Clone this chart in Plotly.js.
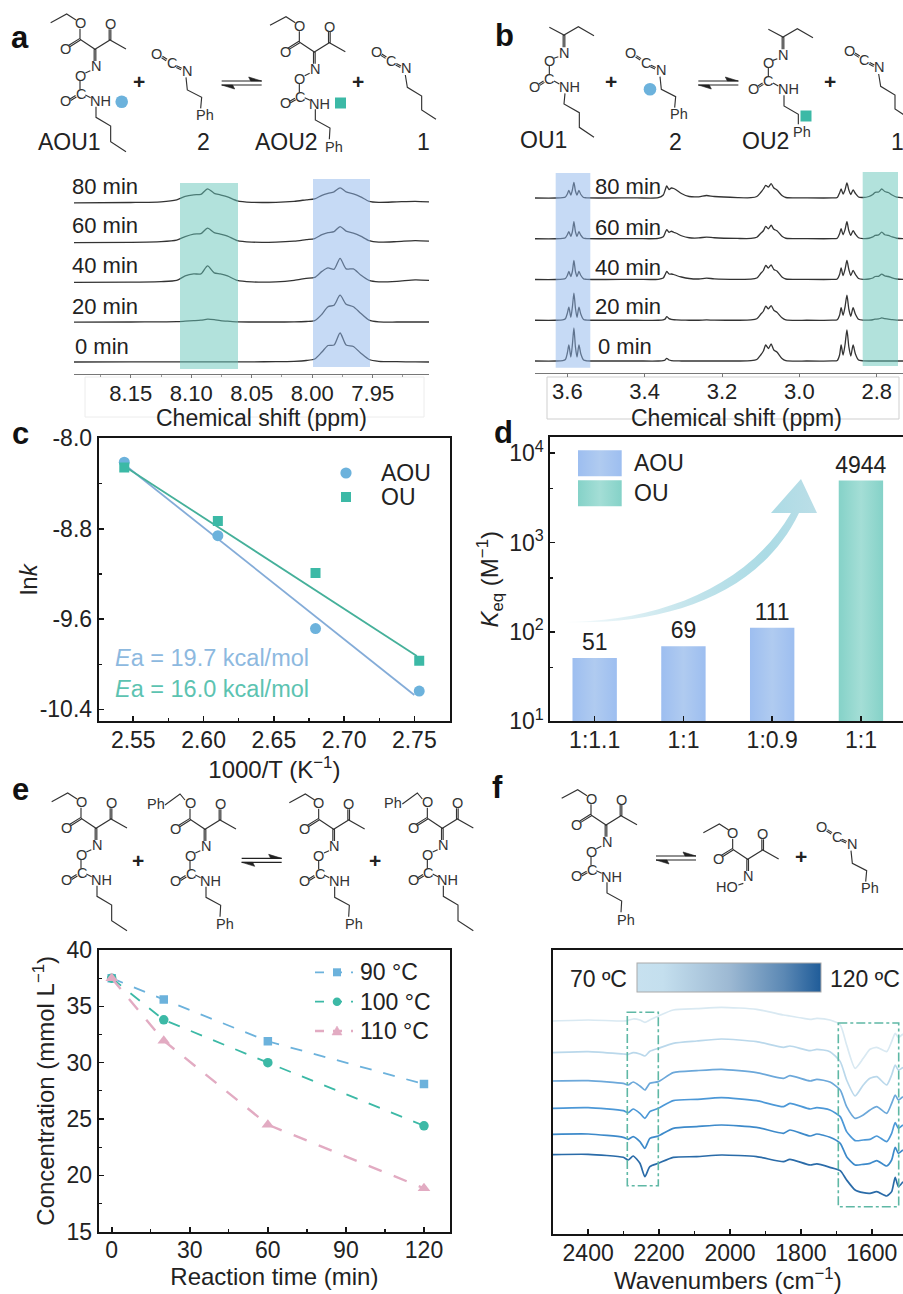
<!DOCTYPE html>
<html>
<head>
<meta charset="utf-8">
<script src="https://cdn.plot.ly/plotly-3.0.1.min.js"></script>
<style>html,body{margin:0;padding:0;background:#fff}#gd{width:903px;height:1294px}</style>
</head>
<body>
<div id="gd"></div>
<script>
// ---------- DATA ----------
const timeLabels = ["0 min","20 min","40 min","60 min","80 min"];

const ppmA = [8.197,8.15,8.125,8.112,8.105,8.098,8.092,8.0865,8.081,8.076,8.07,8.062,8.05,8.03,8.015,8.005,7.998,7.992,7.987,7.982,7.977,7.972,7.966,7.96,7.953,7.945,7.93,7.915,7.9035];
const specA0  = [0,.1,.1,.1,.1,.1,.1,.1,.1,.1,.1,.1,.2,.3,.7,1.5,3,10,16.5,17,29,17,15.5,9,2.5,.7,.3,.1,0];
const specA20 = [0,.2,.3,.5,1,1.5,2,3,2.5,1.5,1,.3,.2,.2,.3,.7,1.5,8,15.5,17,27,18,15.5,9,2,.3,.2,.2,.2];
const specA40 = [0,.3,.8,2,6.5,8.5,8.5,16.5,9.5,8.5,6.5,2,.5,.5,2,4,5,11,14.5,13,24,13.5,13.5,7.5,2,.5,1,2.5,2];
const specA60 = [0,.3,1,2.5,6,8.5,9,14.5,10,8.5,6.5,2,.5,.5,1.5,3,4,8,10,11,16,11.5,9.5,6.5,2,.5,1,2,1.5];
const specA80 = [0,.3,1,3,6.5,8,8.5,14,9.5,8,6,2,.5,.5,1.5,3,4,7.5,9.5,11,15,11,9,6,1.5,.5,1,1.5,1];

const ppmB = [3.684,3.63,3.612,3.605,3.6,3.596,3.591,3.587,3.583,3.579,3.575,3.57,3.565,3.558,3.55,3.5,3.42,3.365,3.352,3.347,3.343,3.337,3.331,3.325,3.318,3.305,3.285,3.26,3.24,3.22,3.16,3.125,3.11,3.1,3.093,3.087,3.08,3.073,3.066,3.058,3.045,3.035,2.98,2.915,2.902,2.896,2.892,2.887,2.882,2.877,2.872,2.867,2.861,2.855,2.847,2.835,2.82,2.81,2.804,2.795,2.787,2.779,2.77,2.76,2.748,2.732];
const specB0  = [0,0,.3,1.5,8,16,4,16,33,14,4,16,7,1,.2,0,0,0,.3,1,2.7,1,.4,.2,.1,0,0,0,0,0,0,.3,1.5,6,10,16,12.5,17,11,9,2.5,.4,0,.1,.5,6,16,6,16,31,14,5,16,7,1,.2,0,0,0,0,0,0,0,0,0,0];
const specB20 = [0,0,.3,1.5,7,13,3,13,27,12,3,13,6,.8,.2,0,0,0,.4,1.2,3.7,1.6,.8,.5,.3,.1,0,0,.3,.1,0,.3,1.5,6,9,14,11.5,14.7,10,8,2.5,.4,0,.1,.5,5,12.5,5,13,25,11,4,12.5,6,1,.1,.2,.5,1.1,1.3,2.3,1.6,1.2,.6,.2,.1];
const specB40 = [0,0,.3,1,4,8,3,8,19,8,3,8,4,.6,.2,0,.1,.2,1.5,5,8,5.5,5.5,5,4,2.5,1,.5,1.3,.7,.2,.3,1.5,6,9,14,11.5,14.5,10,8.5,2.5,.5,.1,.1,.5,5,11.5,4,10,19,10,4,9,5,1,.2,.5,1.5,3,3.2,5.3,3.6,3,1.6,.5,.1];
const specB60 = [0,0,.3,1,4,7,2.5,7,17,7,2.5,7,3.5,.5,.2,0,.1,.3,2,6,9,6.5,7.5,6.5,5.5,3,1,.8,1.7,1,.3,.3,1.5,5.5,8,12.3,10,13.5,9.5,8,2.5,.5,.1,.1,.5,5,10,4,9,17,8,3.5,8,4.5,1,.2,.5,1.8,3.3,3.8,6.7,4,3.3,1.8,.5,.1];
const specB80 = [0,0,.3,1,4,7.5,3,8,15.7,7,3,7.5,3.5,.5,.2,0,.1,.3,3,8,12,8.5,10,9.5,8,4.5,1.5,1.2,2.5,1.5,.4,.3,1.5,5.5,9,12.7,11,14.3,10,8,2.5,.5,.1,.1,.5,5,9,4,8,15,8,3.5,8,4.5,1,.5,1.5,3.5,5.7,6,9,6.5,5.5,3,.8,.2];

const invT = [2.5436,2.6102,2.6797,2.7535];
const lnkAOU = [-8.211,-8.862,-9.684,-10.238];
const lnkOU  = [-8.258,-8.732,-9.192,-9.970];
const fitX_AOU = [2.5436,2.75];
const fitY_AOU = [-8.231,-10.273];
const fitX_OU  = [2.5436,2.7518];
const fitY_OU  = [-8.246,-9.928];

const keqRatioAOU = ["1:1.1","1:1","1:0.9"];
const keqAOU = [51,69,111];
const keqRatioOU = ["1:1"];
const keqOU = [4944];

const timeMin = [0,20,60,120];
const conc90  = [37.5,35.6,31.9,28.1];
const conc100 = [37.5,33.8,30.0,24.4];
const conc110 = [37.5,31.95,24.5,18.85];

const wavenumber = [2500,2400,2301,2287,2273,2254,2240,2226,2202,2160,2094,2024,1925,1849,1831,1774,1755,1718,1689,1671,1647,1624,1605,1586,1558,1544,1534,1525,1512];
const ir70  = [640,643,640,642,646,643,636,643,655,673,677,681,675,658,655,645,648,643,628,568,498,528,555,561,548,578,603,591,601];
const ir80  = [545,548,541,540,545,541,535,549,558,573,580,586,578,561,565,551,555,548,518,463,415,448,468,473,448,478,508,493,501];
const ir90  = [460,461,453,448,457,445,433,453,458,485,491,495,485,468,476,460,465,457,433,383,348,358,373,383,363,393,418,403,413];
const ir100 = [378,380,371,365,376,363,348,368,378,401,405,410,401,383,393,376,380,373,353,308,281,283,285,295,278,303,335,318,328];
const ir110 = [300,301,291,285,293,278,258,288,295,318,323,328,321,303,313,295,301,291,273,233,208,210,213,221,205,223,261,243,253];
const ir120 = [239,240,231,223,235,213,173,203,213,231,233,238,233,218,225,208,211,201,191,163,133,125,123,128,115,128,171,143,158];
const irTemps = [70,80,90,100,110,120];

const ticksA = [8.15,8.10,8.05,8.00,7.95];
const ticksB = [3.6,3.4,3.2,3.0,2.8];
const ticksCx = [2.55,2.60,2.65,2.70,2.75];
const ticksCy = [-8.0,-8.8,-9.6,-10.4];
const ticksCyText = ["-8.0","-8.8","-9.6","-10.4"];
const ticksDy = [10,100,1000,10000];
const ticksDyText = ["10<sup>1</sup>","10<sup>2</sup>","10<sup>3</sup>","10<sup>4</sup>"];
const ticksE = [0,30,60,90,120];
const ticksEy = [15,20,25,30,35,40];
const ticksF = [2400,2200,2000,1800,1600];

// ---------- STYLE & HELPERS ----------
const W=903,H=1294,FONT='"Liberation Sans", Arial, sans-serif',INK='#222';
const cBlue='#6CB2DC',cTeal='#3CB9A6',cPink='#E2ABC2',cLineA='#84ACD8',cLineO='#45B09A';
const SWB='rgb(1,2,3)',SWG='rgb(4,5,6)',SWA='rgb(7,8,9)';
const dx=(l,r)=>[l/W,r/W], dy=(t,b)=>[1-b/H,1-t/H];
const fx=x=>x/W, fy=y=>1-y/H;
const annotations=[], shapes=[];
function T(text,x,y,size,o){annotations.push(Object.assign({text,x:fx(x),y:fy(y),xref:'paper',yref:'paper',showarrow:false,xanchor:'left',yanchor:'middle',borderpad:0,font:{family:FONT,size,color:INK}},o||{}));}
function pathShape(pts,o){
  const d=pts.map(l=>'M'+l.map(p=>fx(p[0]).toFixed(5)+','+fy(p[1]).toFixed(5)).join('L')).join(' ');
  shapes.push(Object.assign({type:'path',path:d,xref:'paper',yref:'paper',line:{color:'#333',width:1.15}},o||{}));
}
function rect(x0,y0,x1,y1,o){shapes.push(Object.assign({type:'rect',xref:'paper',yref:'paper',x0:fx(x0),x1:fx(x1),y0:fy(y0),y1:fy(y1),line:{width:0}},o||{}));}
function dot(x,y,r,col){shapes.push({type:'circle',xref:'paper',yref:'paper',x0:fx(x-r),x1:fx(x+r),y0:fy(y+r),y1:fy(y-r),fillcolor:col,line:{width:0}});}

function dbl(a,b,g){g=g||5;const vx=b[0]-a[0],vy=b[1]-a[1],L=Math.hypot(vx,vy),nx=-vy/L*g/2,ny=vx/L*g/2;
  return [[[a[0]+nx,a[1]+ny],[b[0]+nx,b[1]+ny]],[[a[0]-nx,a[1]-ny],[b[0]-nx,b[1]-ny]]];}
const ketoBonds=[[[152,68],[200,42],[228,60]],[[240,86],[240,118]],[[240,118],[285,148],[330,120],[378,147]],...dbl([240,118],[208,138]),...dbl([330,120],[330,88]),...dbl([285,148],[285,183])];
const ketoLabels=[['O',240,70],['O',197,147],['O',330,72],['N',287,198]];
const carbBonds=[[[271,212],[256,219]],[[240,243],[240,268]],[[256,285],[272,293]],...dbl([228,289],[211,299])];
const carbLabels=[['O',240,228],['C',243,282],['O',197,302],['NH',301,303]];
const butyl=[[[288,320],[288,352],[332,378],[332,425],[378,455]]];
const phenethyl=[[[288,320],[288,352],[332,376],[330,410]]];
const phLabel=[['Ph',345,432]];
const ouBonds=[[[178,82],[222,105],[265,80],[312,107]],...dbl([222,105],[222,142]),[[205,170],[192,175]],[[178,198],[178,222]],[[192,243],[208,252]],...dbl([162,245],[148,254])];
const ouLabels=[['N',222,160],['O',178,183],['C',178,238],['O',132,260],['NH',238,262]];
const ouButyl=[[[225,280],[222,312],[268,338],[268,382],[312,412]]];
const ouPhen=[[[225,280],[225,312],[268,337],[268,367]]];
const ouPh=[['Ph',280,389]];
const isoBonds=[...dbl([16,9],[30,18]),...dbl([60,38],[74,45])];
const isoLabels=[['O',0,0],['C',45,28],['N',90,50]];
const isoPh=[[[88,70],[92,108],[135,130],[132,163]]];
const isoPhL=[['Ph',145,183]];
const isoBu=[[[88,70],[94,107],[137,133],[137,175],[180,203]]];
function mol(bondSets,labelSets,ox,oy){
  const bonds=[].concat(...bondSets).map(l=>l.map(p=>[(p[0]+ox)/3,(p[1]+oy)/3]));
  pathShape(bonds);
  [].concat(...labelSets).forEach(l=>T(l[0],(l[1]+ox)/3,(l[2]+oy)/3,14.5,{xanchor:'center',font:{family:FONT,size:14.5,color:'#333'}}));
}
function eq(x,y){const a=[x/3,y/3];
  pathShape([[[a[0],a[1]],[a[0]+40,a[1]]],[[a[0],a[1]+4],[a[0]+40,a[1]+4]]],{line:{color:'#222',width:1.2}});
  pathShape([[[a[0]+40,a[1]],[a[0]+27,a[1]-4],[a[0]+29,a[1]],[a[0]+40,a[1]]],[[a[0],a[1]+4],[a[0]+13,a[1]+8],[a[0]+11,a[1]+4],[a[0],a[1]+4]]],{fillcolor:'#222',line:{color:'#222',width:.6}});
}
function plus(x,y){T('+',x/3,y/3,21,{xanchor:'center',font:{family:FONT,size:21,color:'#222',weight:700}});}

// ---------- CHEMISTRY HEADERS ----------
mol([ketoBonds,carbBonds,butyl],[ketoLabels,carbLabels],0,0);
mol([isoBonds,isoPh],[isoLabels,isoPhL],470,162);
mol([ketoBonds,carbBonds,phenethyl],[ketoLabels,carbLabels,phLabel],658,8);
mol([isoBonds,isoBu],[isoLabels],1128,155);
plus(418,245);plus(1075,245);eq(665,243);
dot(121.7,101.7,6.3,cBlue);rect(335,97.5,346,108.5,{fillcolor:cTeal});
T('AOU1',69,141.7,23,{xanchor:'center'});T('2',203,141.7,23,{xanchor:'center'});T('AOU2',286,141.7,23,{xanchor:'center'});T('1',423,141.7,23,{xanchor:'center'});

mol([ouBonds,ouButyl],[ouLabels],1470,0);
mol([isoBonds,isoPh],[isoLabels,isoPhL],1892,160);
mol([ouBonds,ouPhen],[ouLabels,ouPh],2127,6);
mol([isoBonds,isoBu],[isoLabels],2548,152);
plus(1832,243);plus(2490,243);eq(2095,243);
dot(650,89.3,6.3,cBlue);rect(800.5,110.5,811.5,121.5,{fillcolor:cTeal});
T('OU1',543,140,23,{xanchor:'center'});T('2',675.7,141.7,23,{xanchor:'center'});T('OU2',765,140.7,23,{xanchor:'center'});T('1',897,141.7,23,{xanchor:'center'});

mol([ketoBonds,carbBonds,butyl],[ketoLabels,carbLabels],3,2337);
mol([ketoBonds.slice(1),[[[495,105],[540,72],[555,90]].map(p=>[p[0]-330,p[1]-30])],carbBonds,phenethyl],[ketoLabels,carbLabels,phLabel,[['Ph',138,73]]],330,2340);
mol([ketoBonds,carbBonds,phenethyl],[ketoLabels,carbLabels,phLabel],716,2340);
mol([ketoBonds.slice(1),[[[495,105],[540,72],[555,90]].map(p=>[p[0]-330,p[1]-30])],carbBonds,butyl],[ketoLabels,carbLabels,[['Ph',138,73]]],1042,2337);
plus(413,2580);plus(1125,2580);eq(725,2575);

mol([ketoBonds,carbBonds,phenethyl],[ketoLabels,carbLabels,phLabel],1533,2327);
mol([ketoBonds,[[[2230,2650],[2215,2655]].map(p=>[p[0]-1958,p[1]-2430])]],[ketoLabels,[['HO',2180-1958,2662-2430]]],1958,2430);
mol([isoBonds,isoPh],[isoLabels,isoPhL],2465,2482);
plus(2402,2570);eq(1968,2568);

[['a',20,37],['b',504,35],['c',20,433],['d',503,432],['e',20,789],['f',497,787]].forEach(p=>T(p[0],p[1],p[2],31,{xanchor:'center',font:{family:FONT,size:31,color:'#111',weight:700}}));

// ---------- NMR PANELS DECOR ----------
const bandB='rgba(141,181,235,.5)',bandG='rgba(101,197,185,.5)';
rect(180,183,238,369,{fillcolor:bandG,layer:'above'});
rect(313,179,370,367,{fillcolor:bandB,layer:'above'});
rect(555.7,173,590.3,367.7,{fillcolor:bandB,layer:'above'});
rect(862.7,172,898,366,{fillcolor:bandG,layer:'above'});
rect(85,377,424,417,{line:{color:'#ececec',width:1},layer:'below'});
rect(547,377,899,419,{line:{color:'#cfcfcf',width:1},layer:'below'});
const labsA=[[74,346],[71,306],[71,266],[71,226],[71,187]];
const labsB=[[597,346],[594,306],[594,267],[594,227],[594,187]];
timeLabels.forEach((t,i)=>{T(t,labsA[i][0],labsA[i][1],22);T(t,labsB[i][0],labsB[i][1],22);});
T('Chemical shift (ppm)',261,418.5,23,{xanchor:'center'});
T('Chemical shift (ppm)',736,418.5,23,{xanchor:'center'});

// ---------- PANEL c DECOR ----------
dot(346,473,5.6,cBlue);rect(341,492,351,502,{fillcolor:cTeal});
T('AOU',380,473,23);T('OU',380,497,23);
T('<i>E</i>a = 19.7 kcal/mol',114,658,23.5,{font:{family:FONT,size:23.5,color:'#8DB9DF'}});
T('<i>E</i>a = 16.0 kcal/mol',114,689,23.5,{font:{family:FONT,size:23.5,color:'#5CC3B1'}});

// ---------- PANEL d DECOR ----------
rect(578,450.3,621.7,476.3,{fillcolor:SWB});
rect(578,480.3,621.7,506.3,{fillcolor:SWG});
T('AOU',633.3,463,23);T('OU',633.3,492.7,23);
shapes.push({type:'path',xref:'paper',yref:'paper',fillcolor:SWA,line:{width:0},
  path:`M${fx(563)},${fy(622)} C${fx(650)},${fy(622)} ${fx(745)},${fy(592)} ${fx(791)},${fy(513)} L${fx(771)},${fy(513)} L${fx(801)},${fy(479)} L${fx(817)},${fy(513)} L${fx(799)},${fy(513)} C${fx(758)},${fy(598)} ${fx(660)},${fy(626)} ${fx(563)},${fy(622)} Z`});

// ---------- PANEL e LEGEND ----------
const legE=[['90 °C',972.3,cBlue,1.8,'s'],['100 °C',1001.7,cTeal,1.8,'c'],['110 °C',1031,cPink,2.4,'t']];
legE.forEach(l=>{
  shapes.push({type:'line',xref:'paper',yref:'paper',x0:fx(315),x1:fx(353),y0:fy(l[1]),y1:fy(l[1]),line:{color:l[2],width:l[3],dash:'dash'}});
  if(l[4]==='s')rect(333,l[1]-4,341,l[1]+4,{fillcolor:l[2]});
  if(l[4]==='c')dot(337,l[1],4.3,l[2]);
  if(l[4]==='t')pathShape([[[332,l[1]+4],[337,l[1]-5],[342,l[1]+4],[332,l[1]+4]]],{fillcolor:l[2],line:{color:l[2],width:.5}});
  T(l[0],359,l[1],23);
});

// ---------- PANEL f DECOR ----------
T('70 ºC',569.3,979.3,23);T('120 ºC',829,979.3,23);
rect(627.3,1012.3,658.3,1185.7,{line:{color:'#5FB8A5',width:1.6,dash:'dashdot'}});
rect(838.3,1023,898.7,1206.7,{line:{color:'#5FB8A5',width:1.6,dash:'dashdot'}});

// ---------- TRACES ----------
const specStyle={mode:'lines',line:{color:'#333',width:1.3,shape:'spline',smoothing:.7},hoverinfo:'skip'};
const stepA=39.8, stepB=40.75;
const traces=[];
[specA0,specA20,specA40,specA60,specA80].forEach((s,i)=>traces.push(Object.assign({},specStyle,{name:timeLabels[i],x:ppmA,y:s.map(v=>v+i*stepA),xaxis:'x',yaxis:'y'})));
[specB0,specB20,specB40,specB60,specB80].forEach((s,i)=>traces.push(Object.assign({},specStyle,{name:timeLabels[i],x:ppmB,y:s.map(v=>v+i*stepB),xaxis:'x2',yaxis:'y2'})));
traces.push({name:'AOU fit',x:fitX_AOU,y:fitY_AOU,mode:'lines',line:{color:cLineA,width:1.8},xaxis:'x3',yaxis:'y3'});
traces.push({name:'OU fit',x:fitX_OU,y:fitY_OU,mode:'lines',line:{color:cLineO,width:1.8},xaxis:'x3',yaxis:'y3'});
traces.push({name:'AOU',x:invT,y:lnkAOU,mode:'markers',marker:{symbol:'circle',size:11,color:cBlue},xaxis:'x3',yaxis:'y3'});
traces.push({name:'OU',x:invT,y:lnkOU,mode:'markers',marker:{symbol:'square',size:10,color:cTeal},xaxis:'x3',yaxis:'y3'});
const barTxt={textposition:'outside',constraintext:'none',cliponaxis:false,textfont:{family:FONT,size:23,color:INK},width:.5,xaxis:'x4',yaxis:'y4'};
traces.push(Object.assign({type:'bar',name:'AOU',x:[0,1,2],y:keqAOU,text:keqAOU.map(String),marker:{color:'#A6C4F0'}},barTxt));
traces.push(Object.assign({type:'bar',name:'OU',x:[3],y:keqOU,text:keqOU.map(String),marker:{color:'#93D7CE'}},barTxt));
traces.push({name:'90 °C',x:timeMin,y:conc90,mode:'lines+markers',line:{color:cBlue,width:1.8,dash:'12px,12px'},marker:{symbol:'square',size:8.5,color:cBlue},xaxis:'x5',yaxis:'y5'});
traces.push({name:'100 °C',x:timeMin,y:conc100,mode:'lines+markers',line:{color:cTeal,width:1.8,dash:'12px,12px'},marker:{symbol:'circle',size:9.5,color:cTeal},xaxis:'x5',yaxis:'y5'});
traces.push({name:'110 °C',x:timeMin,y:conc110,mode:'lines+markers',line:{color:cPink,width:2.4,dash:'14px,13px'},marker:{symbol:'triangle-up',size:11,color:cPink},xaxis:'x5',yaxis:'y5'});
const irCols=['#D9E9F2','#BAD8EB','#6CA8DA','#4C98D7','#3D8ACA','#2A6BA8'];
[ir70,ir80,ir90,ir100,ir110,ir120].forEach((s,i)=>traces.push({name:irTemps[i]+' °C',x:wavenumber,y:s,mode:'lines',line:{color:irCols[i],width:1.7,shape:'spline',smoothing:.6},xaxis:'x6',yaxis:'y6'}));
traces.push({name:'temperature scale',x:irTemps.map(()=>3000),y:irTemps.map(()=>0),mode:'markers',xaxis:'x6',yaxis:'y6',hoverinfo:'skip',
  marker:{size:1,opacity:0,color:irTemps,cmin:70,cmax:120,showscale:true,
    colorscale:[[0,'#C7E1EF'],[.14,'#C4DFEE'],[.5,'#9DB9D3'],[.8,'#5B88B4'],[1,'#1F5C99']],
    colorbar:{orientation:'h',x:fx(637.3),xanchor:'left',xpad:0,y:fy(993.3),yanchor:'bottom',ypad:0,len:183.7,lenmode:'pixels',thickness:29,thicknessmode:'pixels',ticks:'',showticklabels:false,outlinecolor:'#aaa',outlinewidth:1,borderwidth:0}}});

// ---------- AXES ----------
const tf={family:FONT,size:23,color:INK};
const titleFont={family:FONT,size:24,color:INK};
const frame={showline:true,linecolor:'#151515',linewidth:2,ticks:'inside',ticklen:5,tickwidth:1.6,tickcolor:'#151515',tickfont:tf,showgrid:false,zeroline:false,tickmode:'array'};
const up={ticklabelstandoff:-3};
const mn=(vals)=>({tickmode:'array',tickvals:vals,ticks:'inside',ticklen:3,tickwidth:1.3,tickcolor:'#151515',showgrid:false});
const nmrAx={showline:true,linecolor:'#777',linewidth:1.2,ticks:'outside',ticklen:3,tickwidth:1,tickcolor:'#777',tickfont:{family:FONT,size:22,color:INK},showgrid:false,zeroline:false,tickmode:'array',ticklabelstandoff:-4};
const layout={
  width:W,height:H,margin:{l:0,r:0,t:0,b:0},paper_bgcolor:'#fff',plot_bgcolor:'rgba(0,0,0,0)',showlegend:false,hovermode:false,autosize:false,barmode:'overlay',
  font:{family:FONT,color:INK},annotations,shapes,
  xaxis:Object.assign({},nmrAx,{domain:dx(74,429),range:[8.1969,7.9035],anchor:'y',tickvals:ticksA,ticktext:ticksA.map(v=>v.toFixed(2)),minor:{tickmode:'array',tickvals:[8.175,8.125,8.075,8.025,7.975,7.925],ticks:'outside',ticklen:2,tickcolor:'#999',showgrid:false}}),
  yaxis:{domain:dy(170,374),range:[-12,192],visible:false,anchor:'x'},
  xaxis2:Object.assign({},nmrAx,{domain:dx(535,903),range:[3.6836,2.732],anchor:'y2',tickvals:ticksB,ticktext:ticksB.map(v=>v.toFixed(1))}),
  yaxis2:{domain:dy(170,372.7),range:[-11.7,191],visible:false,anchor:'x2'},
  xaxis3:Object.assign({},frame,up,{domain:dx(98.7,450),range:[2.5254,2.7754],anchor:'y3',mirror:true,tickvals:ticksCx,ticktext:ticksCx.map(v=>v.toFixed(2)),minor:mn([2.575,2.625,2.675,2.725]),title:{text:'1000/T (K<sup>−1</sup>)',standoff:8,font:titleFont}}),
  yaxis3:Object.assign({},frame,{domain:dy(438.4,721),range:[-10.503,-8.0],anchor:'x3',mirror:true,tickvals:ticksCy,ticktext:ticksCyText,minor:mn([-8.4,-9.2,-10.0]),title:{text:'ln<i>k</i>',standoff:0,font:titleFont}}),
  xaxis4:Object.assign({},frame,up,{domain:dx(550.3,903),range:[-.5,3.474],anchor:'y4',mirror:true,tickvals:[0,1,2,3],ticktext:keqRatioAOU.concat(keqRatioOU)}),
  yaxis4:Object.assign({},frame,{type:'log',domain:dy(437.3,721.2),range:[1,4.179],anchor:'x4',tickvals:ticksDy,ticktext:ticksDyText,minor:mn([40,400,4000]),title:{text:'<i>K</i><sub>eq</sub> (M<sup>−1</sup>)',standoff:4,font:titleFont}}),
  xaxis5:Object.assign({},frame,up,{domain:dx(98.7,450),range:[-5,130],anchor:'y5',mirror:true,tickvals:ticksE,minor:mn([15,45,75,105]),title:{text:'Reaction time (min)',standoff:5,font:titleFont}}),
  yaxis5:Object.assign({},frame,{domain:dy(950,1231.7),range:[15,40],anchor:'x5',mirror:true,tickvals:ticksEy,minor:mn([17.5,22.5,27.5,32.5,37.5]),title:{text:'Concentration (mmol L<sup>−1</sup>)',standoff:5,font:titleFont}}),
  xaxis6:Object.assign({},frame,up,{domain:dx(552.7,903),range:[2500,1512],anchor:'y6',mirror:true,tickvals:ticksF,minor:mn([2300,2100,1900,1700]),title:{text:'Wavenumbers (cm<sup>−1</sup>)',standoff:10,font:titleFont}}),
  yaxis6:{domain:dy(950,1234.3),range:[0,853],anchor:'x6',showline:true,linecolor:'#151515',linewidth:2,ticks:'',showticklabels:false,showgrid:false,zeroline:false}
};

// ---------- DRAW ----------
Plotly.newPlot('gd',traces,layout,{staticPlot:true,displayModeBar:false}).then(gd=>{
  const svg=gd.querySelector('svg.main-svg');
  const NS='http://www.w3.org/2000/svg';
  const defs=svg.querySelector('defs')||svg.insertBefore(document.createElementNS(NS,'defs'),svg.firstChild);
  const grad=(id,stops)=>{const g=document.createElementNS(NS,'linearGradient');g.setAttribute('id',id);
    stops.forEach(s=>{const e=document.createElementNS(NS,'stop');e.setAttribute('offset',s[0]);e.setAttribute('stop-color',s[1]);g.appendChild(e);});defs.appendChild(g);};
  grad('gB',[[0,'#9DBEF0'],[.5,'#B0CBF0'],[1,'#9DBEF0']]);
  grad('gG',[[0,'#85D2C8'],[.5,'#A4DED6'],[1,'#85D2C8']]);
  grad('gA',[[0,'#FBFDFE'],[.2,'#E3F2F6'],[.55,'#BEE2EA'],[.8,'#ABDBE5'],[1,'#BBDEE7']]);
  gd.querySelectorAll('.barlayer .trace').forEach((t,i)=>t.querySelectorAll('path').forEach(p=>{p.style.fill=i===0?'url(#gB)':'url(#gG)';}));
  gd.querySelectorAll('.shapelayer path').forEach(p=>{const f=p.style.fill.replace(/\s/g,'');
    if(f===SWB.replace(/\s/g,''))p.style.fill='url(#gB)';
    if(f===SWG.replace(/\s/g,''))p.style.fill='url(#gG)';
    if(f===SWA.replace(/\s/g,''))p.style.fill='url(#gA)';});
  const cTitle=gd.querySelector('.g-y3title');
  if(cTitle)cTitle.setAttribute('transform','translate(5,0)');
});
</script>
</body>
</html>
